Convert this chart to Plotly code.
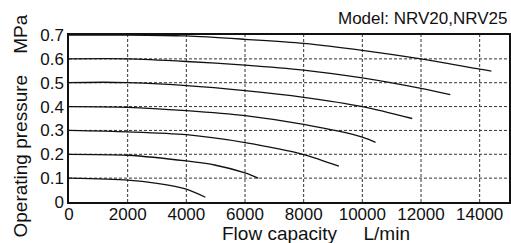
import plotly.graph_objects as go

# Flow capacity (L/min) and operating pressure (MPa) for each set pressure curve
flow_07 = [0, 2000, 4000, 6000, 8000, 10000, 12000, 14000, 14400]
pres_07 = [0.700, 0.700, 0.696, 0.682, 0.665, 0.636, 0.600, 0.557, 0.549]

flow_06 = [0, 2000, 4000, 6000, 8000, 10000, 12000, 13000]
pres_06 = [0.600, 0.600, 0.589, 0.574, 0.553, 0.520, 0.476, 0.450]

flow_05 = [0, 1200, 2000, 4000, 6000, 8000, 10000, 11700]
pres_05 = [0.500, 0.502, 0.500, 0.488, 0.467, 0.439, 0.400, 0.350]

flow_04 = [0, 2000, 4000, 6000, 8000, 10000, 10450]
pres_04 = [0.400, 0.397, 0.383, 0.362, 0.325, 0.272, 0.250]

flow_03 = [0, 2000, 4000, 6000, 8000, 9200]
pres_03 = [0.300, 0.294, 0.282, 0.249, 0.199, 0.150]

flow_02 = [0, 2000, 4000, 5000, 6000, 6450]
pres_02 = [0.200, 0.196, 0.172, 0.154, 0.122, 0.100]

flow_01 = [0, 2000, 3000, 4000, 4650]
pres_01 = [0.100, 0.092, 0.078, 0.054, 0.020]

x_ticks = [0, 2000, 4000, 6000, 8000, 10000, 12000, 14000]
y_ticks = [0, 0.1, 0.2, 0.3, 0.4, 0.5, 0.6, 0.7]
y_tick_labels = ["0", "0.1", "0.2", "0.3", "0.4", "0.5", "0.6", "0.7"]

series = [
    (flow_07, pres_07), (flow_06, pres_06), (flow_05, pres_05),
    (flow_04, pres_04), (flow_03, pres_03), (flow_02, pres_02),
    (flow_01, pres_01),
]

FONT = "Liberation Sans, Arial, sans-serif"

fig = go.Figure()

# dashed grid lines drawn as shapes so they look like the reference
for xv in x_ticks[1:]:
    fig.add_shape(type="line", xref="x", yref="paper", x0=xv, x1=xv, y0=0, y1=1,
                  line=dict(color="#333333", width=1, dash="3px,2px"), layer="below")
for yv in y_ticks[1:-1]:
    fig.add_shape(type="line", xref="paper", yref="y", x0=0, x1=1, y0=yv, y1=yv,
                  line=dict(color="#333333", width=1, dash="3px,2px"), layer="below")

for fx, py in series:
    fig.add_trace(go.Scatter(x=fx, y=py, mode="lines",
                             line=dict(color="#111111", width=1.3, shape="spline", smoothing=0.8),
                             showlegend=False, hoverinfo="skip"))

fig.update_layout(
    width=511, height=243,
    margin=dict(l=69, r=2, t=35, b=41, autoexpand=False),
    paper_bgcolor="white", plot_bgcolor="white",
    font=dict(family=FONT, color="#111111", size=17),
    xaxis=dict(range=[0, 15000], tickvals=x_ticks, ticktext=[str(v) for v in x_ticks],
               showgrid=False, zeroline=False, showline=True, mirror=True,
               linecolor="#111111", linewidth=1.5, ticks="", ticklen=0, automargin=False,
               ticklabelstandoff=-4,
               tickfont=dict(size=17, family=FONT)),
    yaxis=dict(range=[0, 0.7], tickvals=y_ticks, ticktext=y_tick_labels,
               showgrid=False, zeroline=False, showline=True, mirror=True,
               linecolor="#111111", linewidth=1.5, ticks="", ticklen=0, automargin=False,
               tickfont=dict(size=17, family=FONT)),
    annotations=[
        dict(text="Model: NRV20,NRV25", xref="paper", yref="paper", x=1.0, y=1.0,
             xanchor="right", yanchor="bottom", yshift=5, showarrow=False,
             font=dict(size=17, family=FONT, color="#111111")),
        dict(text="Flow capacity\u00a0\u00a0\u00a0\u00a0\u00a0L/min", xref="paper", yref="paper",
             x=0.0, y=0.0, xanchor="left", yanchor="top", xshift=151, yshift=-19,
             showarrow=False, font=dict(size=19, family=FONT, color="#111111")),
        dict(text="Operating pressure\u00a0\u00a0\u00a0\u00a0MPa", xref="paper", yref="paper",
             x=0.0, y=0.5, xanchor="center", yanchor="middle", xshift=-49, yshift=-8,
             textangle=-90, showarrow=False,
             font=dict(size=19, family=FONT, color="#111111")),
    ],
)

fig.write_html("out.html", config={"displayModeBar": False},
               post_script="document.body.style.margin='0';document.body.style.overflow='hidden';")
